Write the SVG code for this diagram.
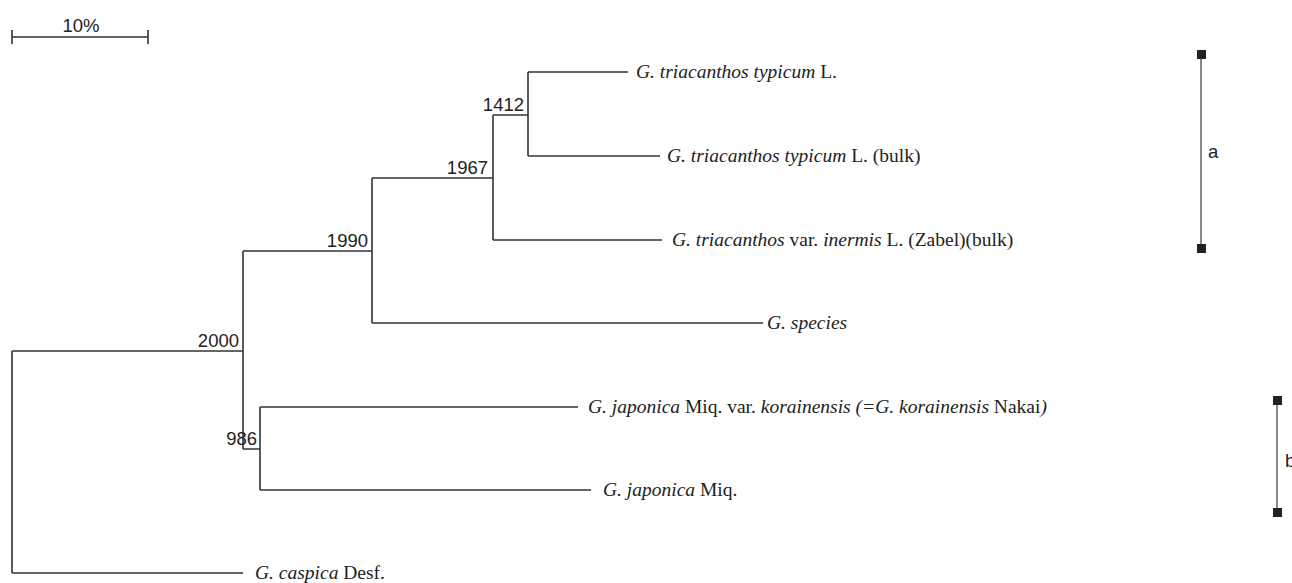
<svg xmlns="http://www.w3.org/2000/svg" width="1292" height="583" viewBox="0 0 1292 583">
<style>
.ln{stroke:#333;stroke-width:1.6;fill:none}
.bar{stroke:#888;stroke-width:2;fill:none}
.sq{fill:#222}
.num{font-family:"Liberation Sans",Arial,sans-serif;font-size:18.5px;fill:#222}
.lab{font-family:"Liberation Serif","Times New Roman",serif;font-size:19.5px;fill:#222}
.i{font-style:italic}
</style>
<rect width="1292" height="583" fill="#fff"/>
<g id="scalebar">
<path class="ln" d="M12,37H148M12,30V44M148,30V44"/>
<text class="num" x="81" y="32" text-anchor="middle" font-size="19">10%</text>
</g>
<g id="connectors">
<path class="ln" d="M12,351V573M12,351H243M12,573H243"/>
<path class="ln" d="M243,251V449M243,251H372M243,449H260"/>
<path class="ln" d="M372,178V323M372,178H493M372,323H763"/>
<path class="ln" d="M493,115V240M493,115H528M493,240H662"/>
<path class="ln" d="M528,72V156M528,72H628M528,156H660"/>
<path class="ln" d="M260,407V490M260,407H578M260,490H591"/>
</g>
<g id="n2000"><text class="num" x="239" y="347" text-anchor="end">2000</text></g>
<g id="n1990"><text class="num" x="368" y="247" text-anchor="end">1990</text></g>
<g id="n1967"><text class="num" x="488" y="174" text-anchor="end">1967</text></g>
<g id="n1412"><text class="num" x="524" y="111" text-anchor="end">1412</text></g>
<g id="n986"><text class="num" x="257" y="445" text-anchor="end">986</text></g>
<g id="leaf1"><text class="lab" x="636" y="78"><tspan class="i">G. triacanthos typicum</tspan> L.</text></g>
<g id="leaf2"><text class="lab" x="667" y="162"><tspan class="i">G. triacanthos typicum</tspan> L. (bulk)</text></g>
<g id="leaf3"><text class="lab" x="672" y="246"><tspan class="i">G. triacanthos</tspan> var. <tspan class="i">inermis</tspan> L. (Zabel)(bulk)</text></g>
<g id="leaf4"><text class="lab" x="767" y="329"><tspan class="i">G. species</tspan></text></g>
<g id="leaf5"><text class="lab" x="588" y="413"><tspan class="i">G. japonica</tspan> Miq. var. <tspan class="i">korainensis (=G. korainensis</tspan> Nakai<tspan class="i">)</tspan></text></g>
<g id="leaf6"><text class="lab" x="603" y="496"><tspan class="i">G. japonica</tspan> Miq.</text></g>
<g id="leaf7"><text class="lab" x="255" y="579"><tspan class="i">G. caspica</tspan> Desf.</text></g>
<g id="bracket-a">
<line class="bar" x1="1201" y1="54" x2="1201" y2="248"/>
<rect class="sq" x="1197" y="50" width="9" height="9"/>
<rect class="sq" x="1197" y="244" width="9" height="9"/>
<text class="num" x="1208" y="158" font-size="19">a</text>
</g>
<g id="bracket-b">
<line class="bar" x1="1277" y1="400" x2="1277" y2="512"/>
<rect class="sq" x="1273" y="396" width="9" height="9"/>
<rect class="sq" x="1273" y="508" width="9" height="9"/>
<text class="num" x="1285" y="467" font-size="19">b</text>
</g>
</svg>
